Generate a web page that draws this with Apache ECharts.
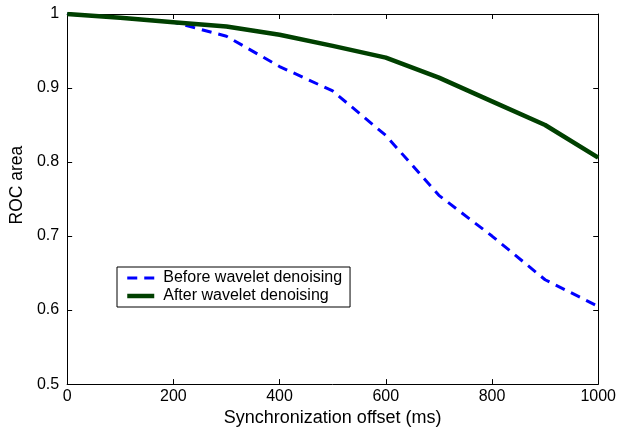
<!DOCTYPE html>
<html>
<head>
<meta charset="utf-8">
<script src="https://cdn.jsdelivr.net/npm/echarts@6/dist/echarts.min.js"></script>
<style>
  html, body { margin: 0; padding: 0; background: #fff; }
  #chart { width: 619px; height: 432px; }
</style>
</head>
<body>
<div id="chart"></div>
<script>
// offsets in ms
var offsets = [0, 100, 200, 300, 400, 500, 600, 700, 800, 900, 1000]
// ROC area, before / after wavelet denoising
var beforeDenoise = [1.0, 0.995, 0.989, 0.970, 0.929, 0.896, 0.836, 0.755, 0.700, 0.641, 0.605]
var afterDenoise = [1.0, 0.995, 0.989, 0.983, 0.972, 0.957, 0.941, 0.914, 0.882, 0.850, 0.806]

var font = 'Liberation Sans, Arial, Helvetica, sans-serif'

function pairs (ys) {
  var out = []
  for (var i = 0; i < offsets.length; i++) out.push([offsets[i], ys[i]])
  return out
}

var axisLine = { show: true, onZero: false, lineStyle: { color: '#000', width: 1 } }
var tick = { show: true, inside: true, length: 5, lineStyle: { color: '#000' } }

var chart = echarts.init(document.getElementById('chart'))
chart.setOption({
  animation: false,
  backgroundColor: '#fff',
  grid: { left: 61, right: 18, top: 14, bottom: 40 },
  legend: {
    orient: 'vertical',
    left: 117,
    top: 267,
    padding: [3, 8, 3, 8],
    itemGap: 2,
    itemWidth: 27,
    itemHeight: 14,
    borderColor: '#000',
    borderWidth: 1,
    backgroundColor: '#fff',
    itemStyle: { opacity: 0 },
    lineStyle: { width: 'inherit' },
    textStyle: { fontFamily: font, fontSize: 16, lineHeight: 16, color: '#000', padding: [0, 0, 0, 4] },
    data: ['Before wavelet denoising', 'After wavelet denoising']
  },
  xAxis: [{
    type: 'value',
    min: 0,
    max: 1000,
    interval: 200,
    name: 'Synchronization offset (ms)',
    nameLocation: 'middle',
    nameGap: 9,
    nameTextStyle: { fontFamily: font, fontSize: 18, color: '#000' },
    axisLine: axisLine,
    axisTick: tick,
    axisLabel: {
      margin: 4,
      fontFamily: font,
      fontSize: 16,
      color: '#000',
      formatter: function (v) { return String(v) }
    },
    splitLine: { show: false }
  }, {
    type: 'value',
    position: 'top',
    min: 0,
    max: 1000,
    interval: 200,
    axisLine: axisLine,
    axisTick: tick,
    axisLabel: { show: false },
    splitLine: { show: false }
  }],
  yAxis: [{
    type: 'value',
    min: 0.5,
    max: 1,
    interval: 0.1,
    name: 'ROC area',
    nameLocation: 'middle',
    nameGap: 34,
    nameTextStyle: { fontFamily: font, fontSize: 17.5, color: '#000', padding: [0, 0, 0, 28] },
    axisLine: axisLine,
    axisTick: tick,
    axisLabel: { margin: 8, fontFamily: font, fontSize: 16, color: '#000' },
    splitLine: { show: false }
  }, {
    type: 'value',
    position: 'right',
    min: 0.5,
    max: 1,
    interval: 0.1,
    axisLine: axisLine,
    axisTick: tick,
    axisLabel: { show: false },
    splitLine: { show: false }
  }],
  series: [{
    name: 'Before wavelet denoising',
    type: 'line',
    data: pairs(beforeDenoise),
    showSymbol: false,
    symbol: 'none',
    color: '#0000ff',
    lineStyle: { color: '#0000ff', width: 3, type: [10, 7] }
  }, {
    name: 'After wavelet denoising',
    type: 'line',
    data: pairs(afterDenoise),
    showSymbol: false,
    symbol: 'none',
    color: '#004000',
    lineStyle: { color: '#004000', width: 4.5 }
  }]
})
</script>
</body>
</html>
